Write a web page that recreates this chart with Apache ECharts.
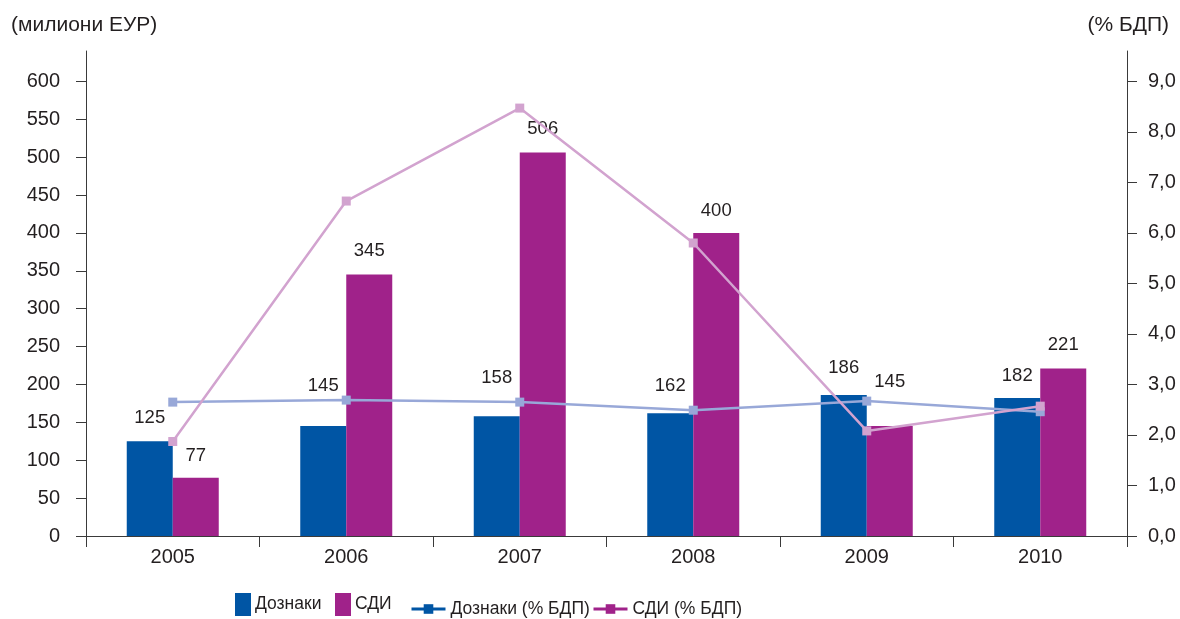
<!DOCTYPE html>
<html>
<head>
<meta charset="utf-8">
<script src="https://cdn.jsdelivr.net/npm/echarts@6/dist/echarts.min.js"></script>
<style>
  html, body { margin: 0; padding: 0; background: #fff; }
  #chart { width: 1180px; height: 619px; }
</style>
</head>
<body>
<div id="chart"></div>
<script>
// Years on the category axis
const years = ['2005', '2006', '2007', '2008', '2009', '2010'];

// Amounts in millions of EUR (left axis)
const remittances = [125, 145, 158, 162, 186, 182];
const fdi = [77, 345, 506, 400, 145, 221];

// Shares of GDP in % (right axis)
const remittancesGdp = [2.65, 2.69, 2.65, 2.49, 2.67, 2.46];
const fdiGdp = [1.87, 6.63, 8.47, 5.80, 2.08, 2.57];

// Tick values for both value axes
const leftTicks = [0, 50, 100, 150, 200, 250, 300, 350, 400, 450, 500, 550, 600];
const rightTicks = [0, 1, 2, 3, 4, 5, 6, 7, 8, 9];

// Gap between each bar top and its value label, lifted where a line passes by
const remittancesLabelGap = [14, 31, 29, 18, 18, 13];
const fdiLabelGap = [12, 14, 14, 12, 35, 14];

const FONT = 'Liberation Sans, Arial, sans-serif';
const TEXT = '#231f20';
const AXIS = '#3a3a3a';
const BLUE = '#0055a4';
const PURPLE = '#a0228a';
const BLUE_LINE = '#98a8d8';
const PINK_LINE = '#d2a3cf';

const chart = echarts.init(document.getElementById('chart'), null, { renderer: 'canvas' });

function barData(values, gaps) {
  return values.map((v, i) => ({
    value: v,
    label: { distance: gaps[i] }
  }));
}

const barLabel = {
  show: true,
  position: 'top',
  color: TEXT,
  fontFamily: FONT,
  fontSize: 18.5
};

const legendText = { fontFamily: FONT, fontSize: 17.5, color: TEXT, padding: [9, 0, 0, -1] };

function rectLegend(name, left) {
  return {
    data: [name], left: left, top: 593, padding: 0,
    itemWidth: 16, itemHeight: 23, icon: 'rect', textStyle: legendText
  };
}

function lineLegend(name, left, color) {
  return {
    data: [{ name: name, itemStyle: { color: color }, lineStyle: { color: color, width: 3 } }],
    left: left, top: 600, padding: 0,
    itemWidth: 34, itemHeight: 12,
    textStyle: Object.assign({}, legendText, { padding: [6, 0, 0, 0] })
  };
}

chart.setOption({
  animation: false,
  backgroundColor: '#ffffff',
  textStyle: { fontFamily: FONT, color: TEXT },
  title: [
    { text: '(милиони ЕУР)', left: 6, top: 10,
      textStyle: { fontFamily: FONT, fontSize: 21, fontWeight: 'normal', color: TEXT } },
    { text: '(% БДП)', right: 6, top: 10,
      textStyle: { fontFamily: FONT, fontSize: 21, fontWeight: 'normal', color: TEXT } }
  ],
  grid: { left: 86, right: 53, top: 51, bottom: 83, containLabel: false },
  legend: [
    rectLegend('Дознаки', 235),
    rectLegend('СДИ', 335),
    lineLegend('Дознаки (% БДП)', 410, BLUE),
    lineLegend('СДИ (% БДП)', 592, PURPLE)
  ],
  xAxis: {
    type: 'category',
    data: years,
    boundaryGap: true,
    axisLine: { lineStyle: { color: AXIS, width: 1 } },
    axisTick: { show: true, length: 11, lineStyle: { color: AXIS } },
    axisLabel: { color: TEXT, fontFamily: FONT, fontSize: 20, margin: 11 },
    splitLine: { show: false }
  },
  yAxis: [
    {
      type: 'value',
      min: 0, max: 640,
      position: 'left',
      axisLine: { show: true, lineStyle: { color: AXIS, width: 1 } },
      axisTick: { show: true, length: 10, customValues: leftTicks, lineStyle: { color: AXIS } },
      axisLabel: { customValues: leftTicks, color: TEXT, fontFamily: FONT, fontSize: 20, margin: 26 },
      splitLine: { show: false }
    },
    {
      type: 'value',
      min: 0, max: 9.6,
      position: 'right',
      axisLine: { show: true, lineStyle: { color: AXIS, width: 1 } },
      axisTick: { show: true, length: 10, customValues: rightTicks, lineStyle: { color: AXIS } },
      axisLabel: {
        customValues: rightTicks, color: TEXT, fontFamily: FONT, fontSize: 20, margin: 21,
        formatter: v => v.toFixed(1).replace('.', ',')
      },
      splitLine: { show: false }
    }
  ],
  series: [
    {
      name: 'Дознаки', type: 'bar', yAxisIndex: 0,
      data: barData(remittances, remittancesLabelGap), barWidth: 46, barGap: '0%',
      itemStyle: { color: BLUE }, label: barLabel, z: 2
    },
    {
      name: 'СДИ', type: 'bar', yAxisIndex: 0,
      data: barData(fdi, fdiLabelGap), barWidth: 46, barGap: '0%',
      itemStyle: { color: PURPLE }, label: barLabel, z: 2
    },
    {
      name: 'Дознаки (% БДП)', type: 'line', yAxisIndex: 1,
      data: remittancesGdp, symbol: 'rect', symbolSize: 9, showAllSymbol: true,
      lineStyle: { color: BLUE_LINE, width: 2.5 }, itemStyle: { color: BLUE_LINE }, z: 3
    },
    {
      name: 'СДИ (% БДП)', type: 'line', yAxisIndex: 1,
      data: fdiGdp, symbol: 'rect', symbolSize: 9, showAllSymbol: true,
      lineStyle: { color: PINK_LINE, width: 2.5 }, itemStyle: { color: PINK_LINE }, z: 4
    }
  ]
});
</script>
</body>
</html>
